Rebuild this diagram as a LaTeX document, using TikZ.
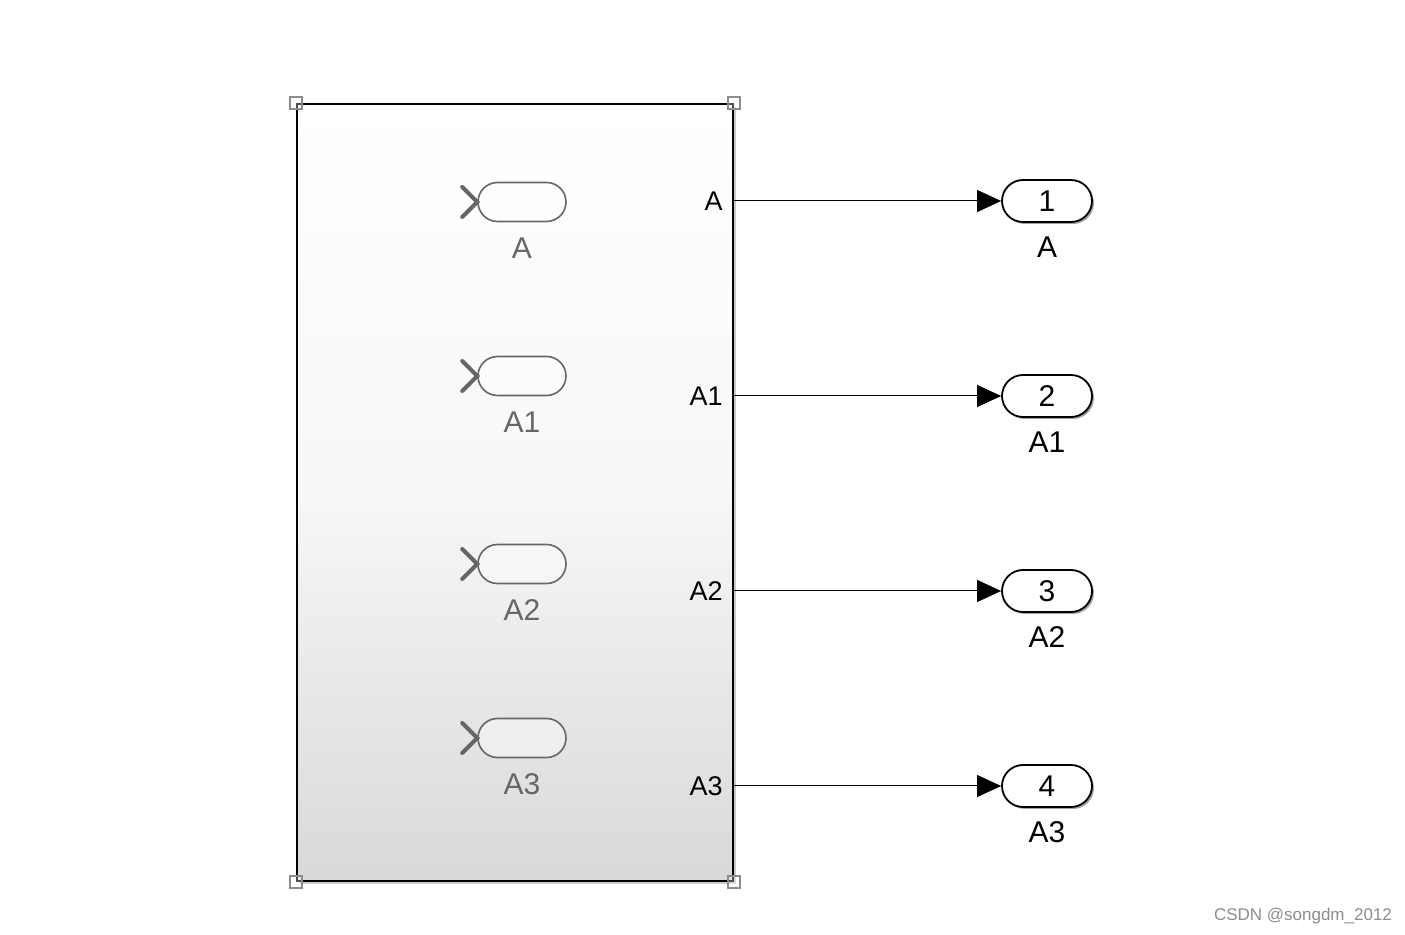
\documentclass[tikz,border=0pt]{standalone}
\usepackage{fontspec}
\setmainfont{Liberation Sans}
\usetikzlibrary{positioning, arrows.meta, shadows}

\begin{document}
\begin{tikzpicture}[
    x=0.5pt, y=-0.5pt,
    node distance=23pt,
    on grid,
    font=\fontsize{15}{18}\selectfont,
    subsys/.style={draw=black, line width=1pt, minimum width=218pt, minimum height=388.5pt,
        top color=white, bottom color=black!15, middle color=black!3,
        drop shadow={shadow xshift=1.5pt, shadow yshift=-1.5pt, fill=black!35, opacity=.6}},
    handle/.style={draw=black!45, fill=white, fill opacity=.3, line width=.6pt, minimum size=6pt, inner sep=0pt},
    fromblk/.style={draw=black!60, line width=.8pt, rounded corners=9.75pt, minimum width=44pt, minimum height=19.5pt, inner sep=0pt, fill=white, fill opacity=.4},
    chev/.style={draw=black!60, line width=2pt, line cap=round},
    outport/.style={draw=black, line width=.9pt, fill=white, rounded corners=10.5pt, minimum width=45pt, minimum height=21pt, inner sep=0pt,
        drop shadow={shadow xshift=1pt, shadow yshift=-1pt, fill=black!45, opacity=.8}},
    graylbl/.style={text=black!60},
    portlbl/.style={anchor=east, inner sep=0pt, font=\fontsize{13.5}{16}\selectfont},
    sig/.style={line width=.5pt, -{Triangle[length=12pt, width=11pt]}}
]
   \useasboundingbox (0,0) rectangle (1405,935);

   % Subsystem with its handles
   \node[subsys] (sub) at (515,492.5) {};
   \foreach \c in {north west, north east, south west, south east}
      \node[handle] at (sub.\c) {};

   % From blocks inside
   \node[fromblk] (f1) at (522,202) {};
   \node[fromblk] (f2) at (522,376) {};
   \node[fromblk] (f3) at (522,564) {};
   \node[fromblk] (f4) at (522,738) {};
   \node[graylbl, below=of f1] (f1l) {A};
   \node[graylbl, below=of f2] (f2l) {A1};
   \node[graylbl, below=of f3] (f3l) {A2};
   \node[graylbl, below=of f4] (f4l) {A3};
   \foreach \f in {f1, f2, f3, f4}
      \draw[chev] ([xshift=-7.5pt, yshift=7.5pt]\f.west) -- (\f.west) -- ([xshift=-7.5pt, yshift=-7.5pt]\f.west);

   % Outports
   \node[outport] (o1) at (1047,201) {1};
   \node[outport, below=97.5pt of o1] (o2) {2};
   \node[outport, below=97.5pt of o2] (o3) {3};
   \node[outport, below=97.5pt of o3] (o4) {4};
   \node[below=of o1] (o1l) {A};
   \node[below=of o2] (o2l) {A1};
   \node[below=of o3] (o3l) {A2};
   \node[below=of o4] (o4l) {A3};

   % Port labels of the subsystem
   \node[portlbl] (pA) at ([xshift=-5.5pt]sub.east |- o1) {A};
   \node[portlbl] (pA1) at ([xshift=-5.5pt]sub.east |- o2) {A1};
   \node[portlbl] (pA2) at ([xshift=-5.5pt]sub.east |- o3) {A2};
   \node[portlbl] (pA3) at ([xshift=-5.5pt]sub.east |- o4) {A3};
   \coordinate (s1) at (sub.east |- o1);
   \coordinate (s2) at (sub.east |- o2);
   \coordinate (s3) at (sub.east |- o3);
   \coordinate (s4) at (sub.east |- o4);

   % Signals
   \path
   (s1) edge[sig] (o1)
   (s2) edge[sig] (o2)
   (s3) edge[sig] (o3)
   (s4) edge[sig] (o4);

   \node[text=black!45, font=\fontsize{8.5}{10}\selectfont] (wm) at (1303,916) {CSDN @songdm\_2012};
\end{tikzpicture}
\end{document}
